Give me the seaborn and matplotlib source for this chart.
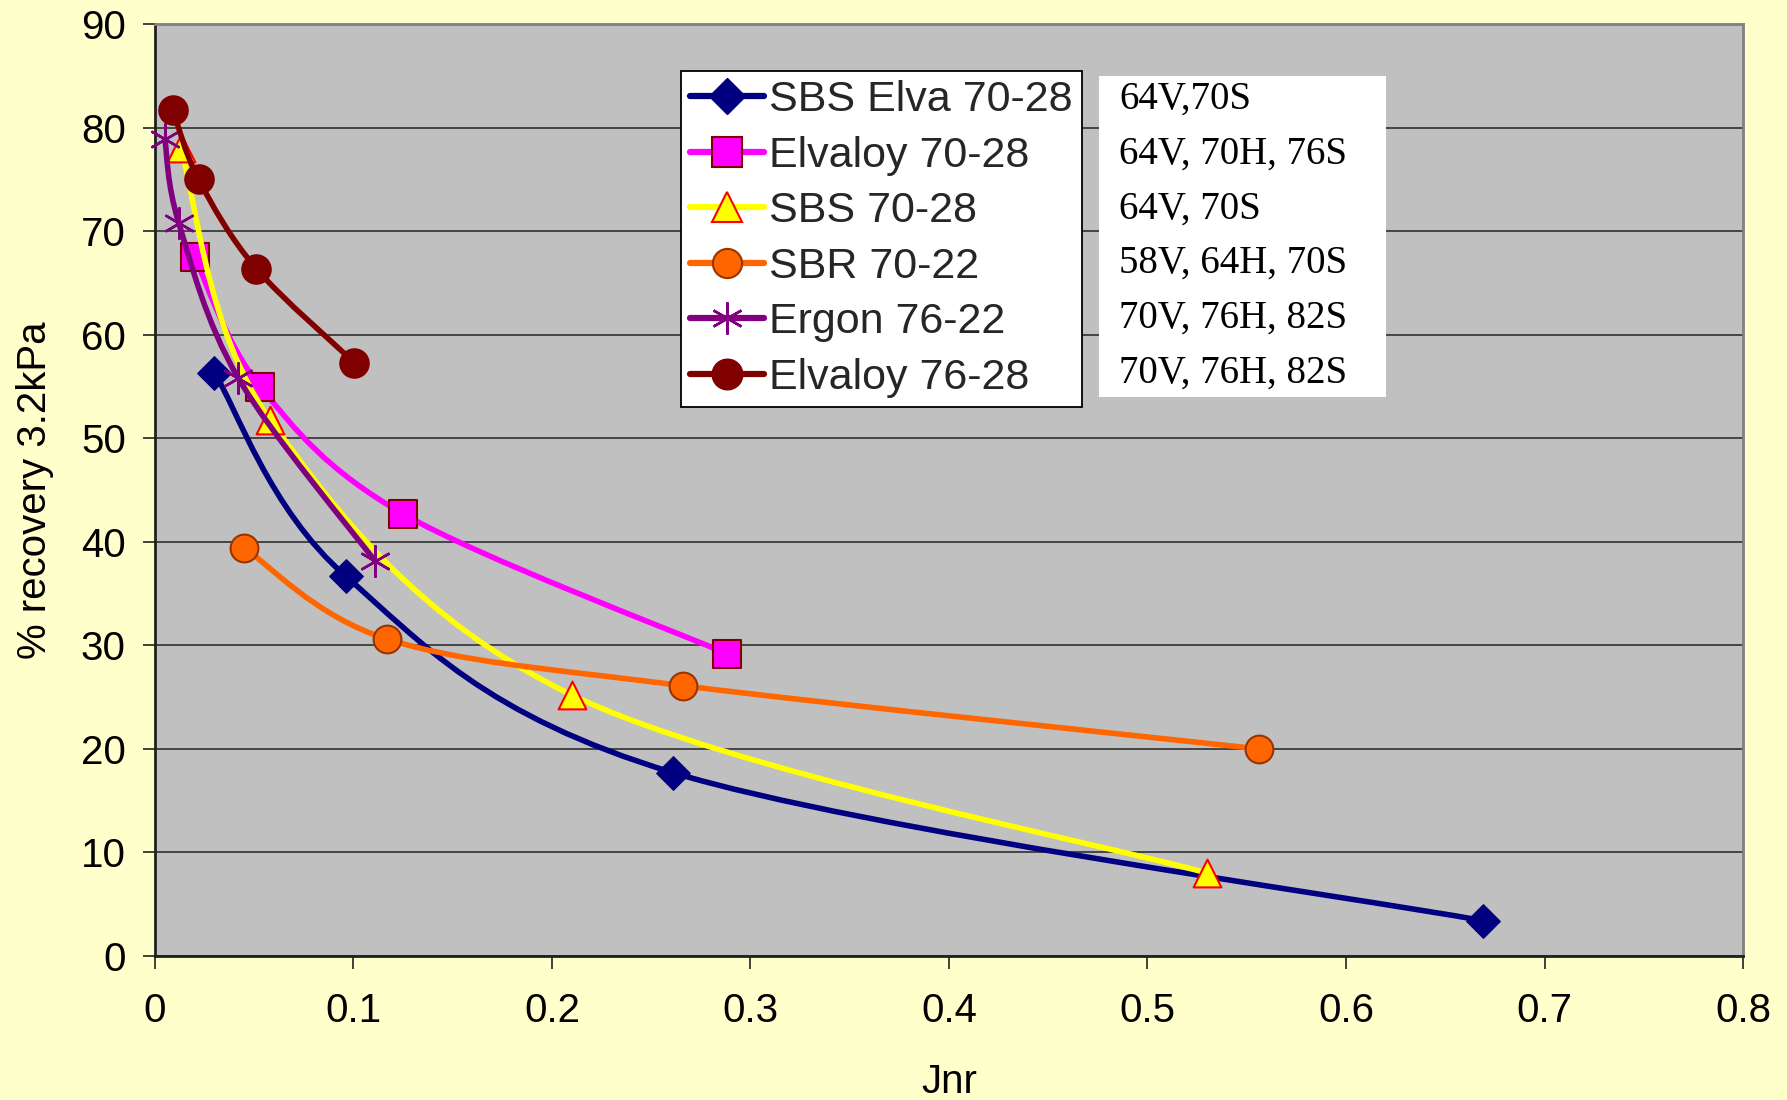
import numpy as np
import pandas as pd
import matplotlib
matplotlib.use("Agg")
import matplotlib.pyplot as plt
from matplotlib.path import Path
from matplotlib.patches import PathPatch, Rectangle
from matplotlib.lines import Line2D
import seaborn as sns

# ---------------- data ----------------
series_names = ["SBS Elva 70-28", "Elvaloy 70-28", "SBS 70-28",
                "SBR 70-22", "Ergon 76-22", "Elvaloy 76-28"]
sbs_elva_x = [0.030, 0.096, 0.261, 0.669]
sbs_elva_y = [56.3, 36.7, 17.7, 3.4]
elvaloy7028_x = [0.020, 0.053, 0.125, 0.288]
elvaloy7028_y = [67.5, 55.0, 42.7, 29.2]
sbs7028_x = [0.013, 0.058, 0.210, 0.530]
sbs7028_y = [78.0, 51.8, 25.2, 8.0]
sbr7022_x = [0.045, 0.117, 0.266, 0.556]
sbr7022_y = [39.4, 30.6, 26.1, 20.0]
ergon7622_x = [0.005, 0.012, 0.042, 0.111]
ergon7622_y = [78.9, 70.8, 55.8, 38.1]
elvaloy7628_x = [0.009, 0.022, 0.051, 0.1005]
elvaloy7628_y = [81.7, 75.0, 66.4, 57.3]
grade_notes = ["64V,70S", "64V, 70H, 76S", "64V, 70S",
               "58V, 64H, 70S", "70V, 76H, 82S", "70V, 76H, 82S"]
x_ticks = [0, 0.1, 0.2, 0.3, 0.4, 0.5, 0.6, 0.7, 0.8]
x_tick_labels = ["0", "0.1", "0.2", "0.3", "0.4", "0.5", "0.6", "0.7", "0.8"]
y_ticks = [0, 10, 20, 30, 40, 50, 60, 70, 80, 90]

xs = [sbs_elva_x, elvaloy7028_x, sbs7028_x, sbr7022_x, ergon7622_x, elvaloy7628_x]
ys = [sbs_elva_y, elvaloy7028_y, sbs7028_y, sbr7022_y, ergon7622_y, elvaloy7628_y]

frames = []
for n, xv, yv in zip(series_names, xs, ys):
    frames.append(pd.DataFrame({"series": n, "Jnr": xv, "rec": yv}))
df = pd.concat(frames, ignore_index=True)

# ---------------- styles ----------------
styles = {
    "SBS Elva 70-28": dict(color="#000080", marker="D", mfc="#000080", mec="#000080", ms=17, mew=1),
    "Elvaloy 70-28": dict(color="#FF00FF", marker="s", mfc="#FF00FF", mec="#800000", ms=20, mew=1.5),
    "SBS 70-28": dict(color="#FFFF00", marker="^", mfc="#FFFF00", mec="#FF0000", ms=20, mew=1.5),
    "SBR 70-22": dict(color="#FF6600", marker="o", mfc="#FF6600", mec="#993300", ms=20, mew=1.5),
    "Ergon 76-22": dict(color="#800080", marker=(6, 2, 0), mfc="#800080", mec="#800080", ms=22, mew=1.8),
    "Elvaloy 76-28": dict(color="#800000", marker="o", mfc="#800000", mec="#800000", ms=21, mew=1),
}

sns.set_theme(style="white")
plt.rcParams["font.family"] = ["Liberation Sans", "DejaVu Sans"]

fig = plt.figure(figsize=(17.87, 11.0), dpi=100, facecolor="#FFFFCC")
ax = fig.add_axes([0.0867, 0.131, 0.9754 - 0.0867, 0.978 - 0.131])
ax.set_facecolor("#C0C0C0")

ax.set_xlim(0, 0.8)
ax.set_ylim(0, 90)


def smooth_path(xv, yv):
    p = np.column_stack([xv, yv]).astype(float)
    n = len(p)
    verts = [p[0]]
    codes = [Path.MOVETO]
    for i in range(n - 1):
        p0 = p[i - 1] if i > 0 else p[i]
        p1 = p[i]
        p2 = p[i + 1]
        p3 = p[i + 2] if i + 2 < n else p[i + 1]
        c1 = p1 + (p2 - p0) / 6.0
        c2 = p2 - (p3 - p1) / 6.0
        verts += [c1, c2, p2]
        codes += [Path.CURVE4] * 3
    return Path(verts, codes)


LW = 4.0
handles = []
for i, name in enumerate(series_names):
    st = styles[name]
    sub = df[df["series"] == name]
    patch = PathPatch(smooth_path(sub["Jnr"].values, sub["rec"].values), fill=False,
                      edgecolor=st["color"], lw=LW, capstyle="round", joinstyle="round",
                      zorder=3 + i * 2)
    ax.add_patch(patch)
    sns.scatterplot(data=sub, x="Jnr", y="rec", ax=ax, marker=st["marker"],
                    s=st["ms"] ** 2, color=st["mfc"], edgecolor=st["mec"],
                    linewidth=st["mew"], zorder=4 + i * 2, legend=False, clip_on=False)
    handles.append(Line2D([], [], color=st["color"], lw=LW + 0.5, marker=st["marker"],
                          markersize=st["ms"] * 1.05, markerfacecolor=st["mfc"],
                          markeredgecolor=st["mec"], markeredgewidth=st["mew"]))

# grid & spines
ax.set_yticks(y_ticks)
ax.set_xticks(x_ticks)
ax.set_xticklabels(x_tick_labels)
ax.yaxis.grid(True, color="#3a3a3a", lw=1.3, zorder=1)
ax.xaxis.grid(False)
ax.set_axisbelow(True)
for s in ["left", "bottom"]:
    ax.spines[s].set_color("#202020")
    ax.spines[s].set_linewidth(2.0)
for s in ["top", "right"]:
    ax.spines[s].set_color("#808080")
    ax.spines[s].set_linewidth(2.0)

ax.tick_params(axis="both", direction="out", length=9, width=1.2, color="#202020",
               labelsize=29, labelcolor="black", left=True, bottom=True)
ax.tick_params(axis="x", pad=17)
ax.tick_params(axis="y", pad=12)

ax.set_xlabel("Jnr", fontsize=29, labelpad=24, color="black")
ax.set_ylabel("% recovery 3.2kPa", fontsize=29, labelpad=19, color="black")

leg = ax.legend(handles, series_names, loc="upper left",
                bbox_to_anchor=(681 / 1787, 1 - 71 / 1100), bbox_transform=fig.transFigure,
                fontsize=31, frameon=True, fancybox=False, borderaxespad=0,
                borderpad=0.22, labelspacing=0.36, handlelength=1.7, handletextpad=0.12,
                facecolor="white", edgecolor="black", framealpha=1)
leg.get_frame().set_linewidth(1.3)
leg.set_zorder(20)

# white notes box
fig.patches.append(Rectangle((1099 / 1787, 1 - 397 / 1100), (1386 - 1099) / 1787,
                             (397 - 76) / 1100, transform=fig.transFigure,
                             facecolor="white", edgecolor="none", zorder=19))
for k, note in enumerate(grade_notes):
    yc = 99.5 + k * 54.7
    fig.text(1119 / 1787, 1 - yc / 1100, note, fontsize=28,
             family=["Liberation Serif", "DejaVu Serif"], va="center", ha="left",
             color="black", zorder=21)

fig.savefig("out.png", dpi=100, facecolor=fig.get_facecolor())
